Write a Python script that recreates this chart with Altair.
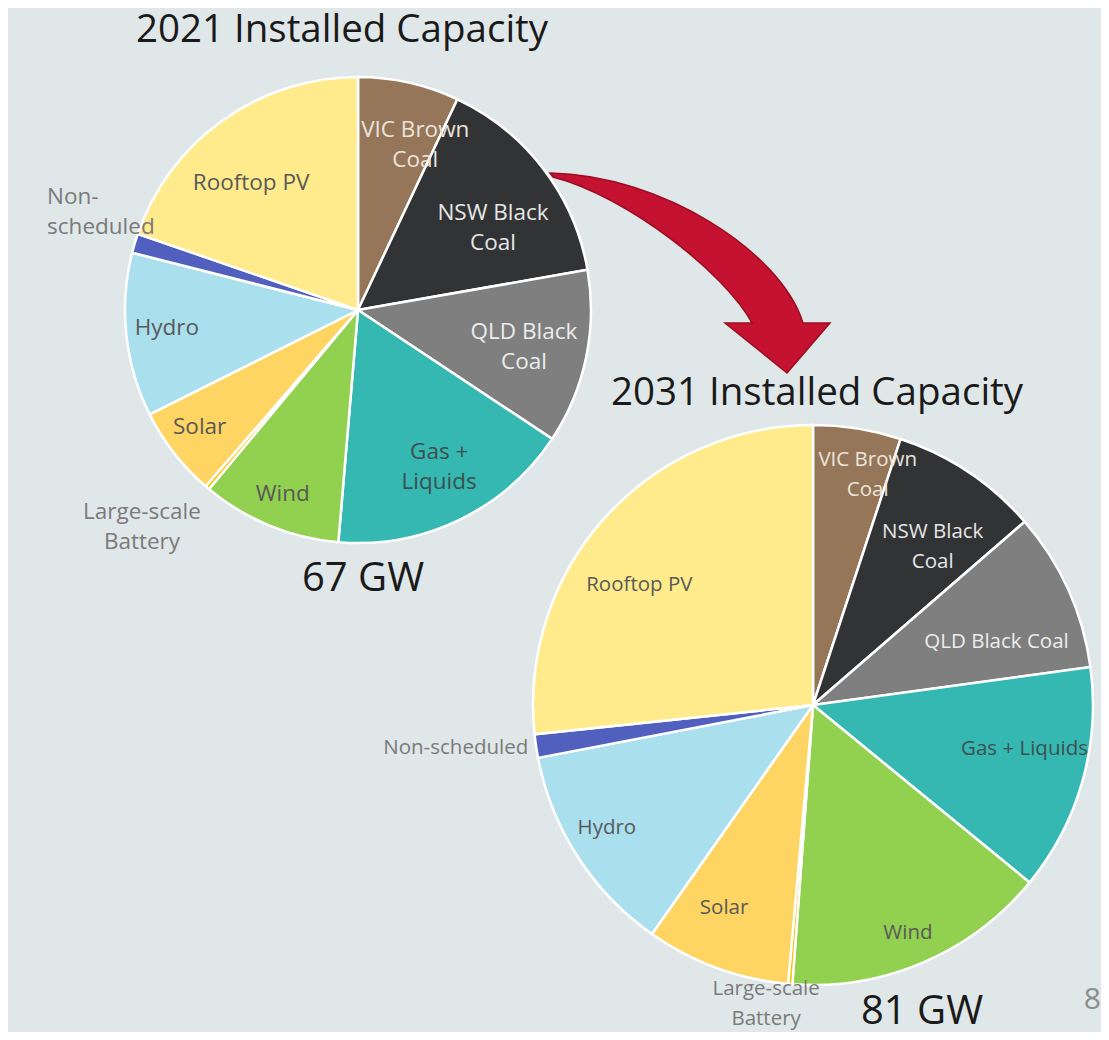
import math
import altair as alt
import pandas as pd

# ---------------- data ----------------
categories = ["VIC Brown Coal", "NSW Black Coal", "QLD Black Coal", "Gas + Liquids", "Wind",
              "Large-scale Battery", "Solar", "Hydro", "Non-scheduled", "Rooftop PV"]
gw_2021 = [4.7, 10.2, 8.1, 11.4, 6.5, 0.2, 4.2, 7.6, 0.9, 13.2]
gw_2031 = [4.1, 6.95, 7.45, 10.6, 12.35, 0.2, 6.75, 9.9, 1.1, 21.6]
labels_2021 = ["VIC Brown\nCoal", "NSW Black\nCoal", "QLD Black\nCoal", "Gas +\nLiquids", "Wind",
               "Large-scale\nBattery", "Solar", "Hydro", "Non-\nscheduled", "Rooftop PV"]
labels_2031 = ["VIC Brown\nCoal", "NSW Black\nCoal", "QLD Black Coal", "Gas + Liquids", "Wind",
               "Large-scale\nBattery", "Solar", "Hydro", "Non-scheduled", "Rooftop PV"]
titles = ["2021 Installed Capacity", "2031 Installed Capacity"]
totals = ["67 GW", "81 GW"]
page_number = "8"

# ---------------- styles ----------------
colors = ["#957658", "#323335", "#7f7f7f", "#35b8b2", "#92d050",
          "#ffc000", "#fed462", "#aadfee", "#5160bf", "#ffeb8c"]
text_colors = ["#ece4dc", "#e6e6e6", "#ececec", "#3f4f4f", "#595959",
               "#7a7a7a", "#595959", "#595959", "#7a7a7a", "#595959"]
# label placement: (angle in degrees from north, radius px, align)
place_2021 = [(19.1, 175, "center"), (58.7, 158, "center"), (102.6, 170, "center"),
              (152.7, 177, "center"), (202.2, 199, "center"), (224.9, 306, "center"),
              (233.5, 197, "center"), (264.6, 192, "center"), (287.5, 326, "left"),
              (319.9, 166, "center")]
place_2031 = [(13.4, 236, "center"), (37.2, 198, "center"), (71.1, 194, "center"),
              (101.7, 216, "center"), (157.4, 247, "center"), (188.9, 303, "center"),
              (203.6, 222, "center"), (239.2, 240, "center"), (261.4, 288, "right"),
              (304.6, 211, "center")]

FONT = "Open Sans"
BG = "#e0e7e9"
M = 8  # page margin
LH = 30


def build_df(values, labels, place, cx, cy):
    total = sum(values)
    rows = []
    acc = 0.0
    for cat, v, lab, col, tc, (ang, rad, al) in zip(categories, values, labels, colors, text_colors, place):
        start = acc / total * 2 * math.pi
        acc += v
        end = acc / total * 2 * math.pi
        a = math.radians(ang)
        n = lab.count("\n") + 1
        lx = cx + rad * math.sin(a)
        ly = cy - rad * math.cos(a) - (n - 1) * LH / 2
        rows.append(dict(category=cat, value=v, start=start, end=end, label=lab, color=col,
                         tc=tc, lx=lx, ly=ly, align=al))
    return pd.DataFrame(rows)


def pie_layers(df, cx, cy, r, fs):
    layers = []
    arcs = alt.Chart(df).mark_arc(outerRadius=r, innerRadius=0, stroke="white", strokeWidth=2.5).encode(
        x=alt.value(cx), y=alt.value(cy),
        theta=alt.Theta("start:Q", scale=None),
        theta2="end:Q",
        color=alt.Color("color:N", scale=None),
    )
    layers.append(arcs)
    for al in ["center", "left", "right"]:
        sub = df[df["align"] == al]
        if len(sub) == 0:
            continue
        t = alt.Chart(sub).mark_text(font=FONT, fontSize=fs, lineBreak="\n", lineHeight=LH,
                                     align=al, baseline="middle").encode(
            x=alt.X("lx:Q", scale=None),
            y=alt.Y("ly:Q", scale=None),
            text="label:N",
            color=alt.Color("tc:N", scale=None),
        )
        layers.append(t)
    return layers


def text_layer(txt, x, y, size, color, align="center"):
    d = pd.DataFrame({"t": [txt]})
    return alt.Chart(d).mark_text(font=FONT, fontSize=size, color=color, align=align,
                                  baseline="middle").encode(
        x=alt.value(x - M), y=alt.value(y - M), text="t:N")


C1 = (358 - M, 310 - M)
C2 = (813 - M, 705 - M)
df21 = build_df(gw_2021, labels_2021, place_2021, *C1)
df31 = build_df(gw_2031, labels_2031, place_2031, *C2)

ARROW = ("M -1 -0.714 C -0.2 -0.7 0.65 -0.15 0.807 0.357 L 1 0.357 L 0.693 0.714 "
         "L 0.25 0.357 L 0.443 0.357 C 0.25 0 -0.45 -0.55 -0.979 -0.686 Z")
arrow = alt.Chart(pd.DataFrame({"k": [0]})).mark_point(
    shape=ARROW, size=78400, filled=True, fill="#c41230", stroke="#9b0d22",
    strokeWidth=1.5, opacity=1).encode(x=alt.value(690 - M), y=alt.value(273 - M))

layers = [arrow]
layers += pie_layers(df21, C1[0], C1[1], 233, 22.5)
layers += pie_layers(df31, C2[0], C2[1], 280, 20.5)
layers += [
    text_layer(titles[0], 342, 30, 38.5, "#1a1a1a"),
    text_layer(titles[1], 817, 393, 38.5, "#1a1a1a"),
    text_layer(totals[0], 363, 579, 40, "#1a1a1a"),
    text_layer(totals[1], 922, 1012, 40, "#1a1a1a"),
    text_layer(page_number, 1101, 1000, 30, "#8c8c8c", align="right"),
]

chart = alt.layer(*layers).properties(
    width=1093, height=1024, background=BG, padding=0, autosize="none"
).configure_view(strokeWidth=0)

chart.save("out.html", embed_options={"renderer": "svg", "actions": False})
